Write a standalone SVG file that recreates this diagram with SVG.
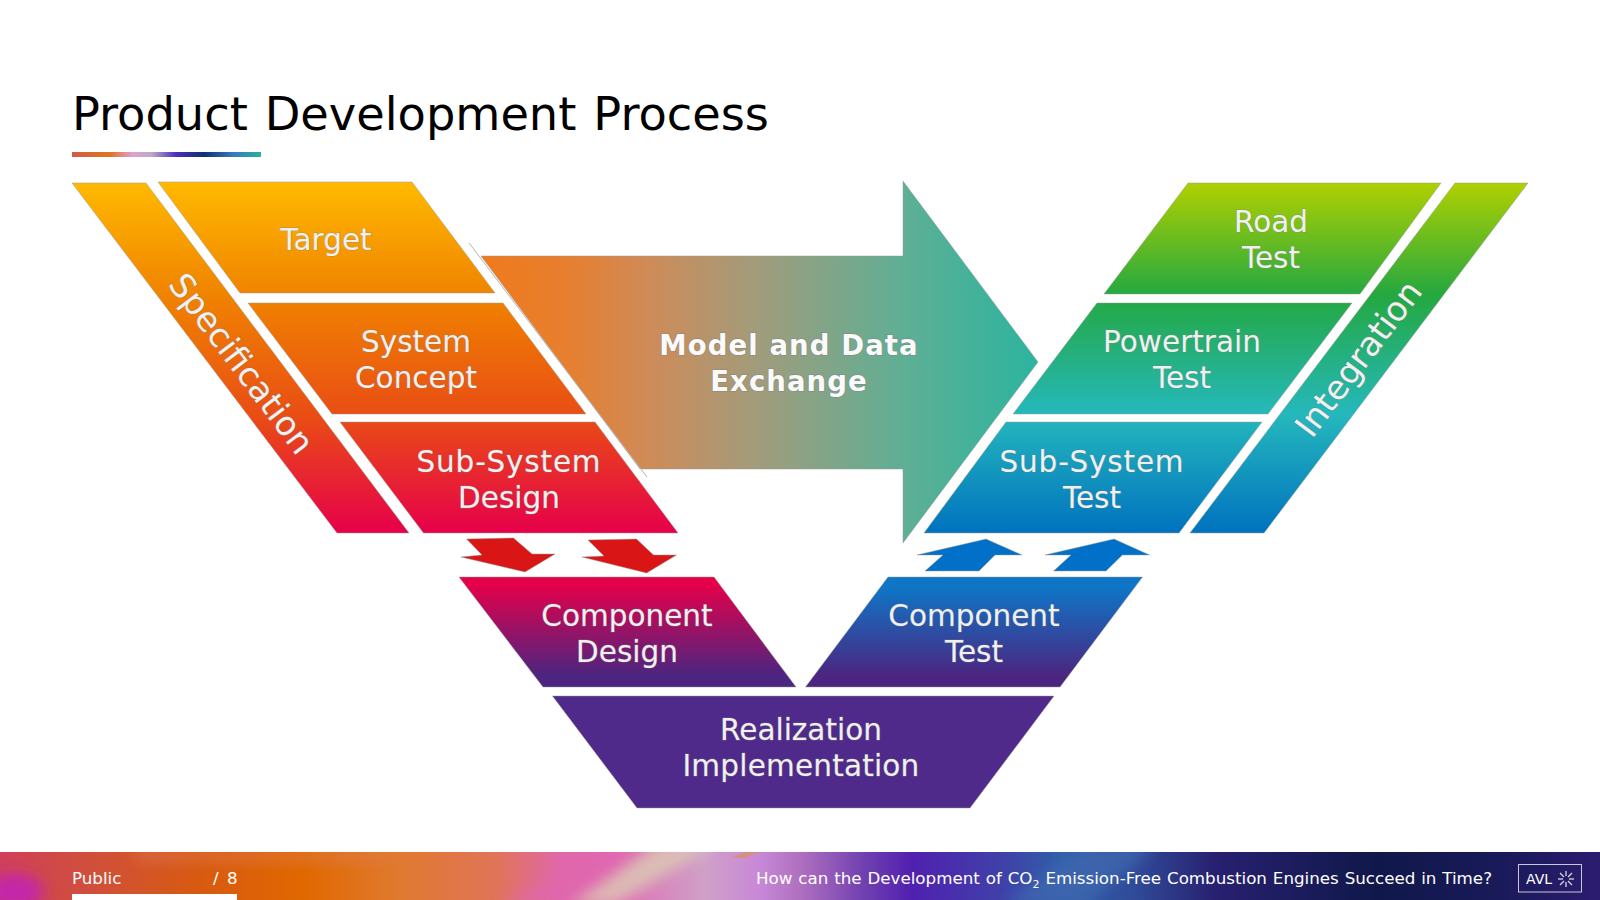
<svg xmlns="http://www.w3.org/2000/svg" width="1600" height="900" viewBox="0 0 1600 900">
<style>
.t{font-family:"DejaVu Sans",Verdana,sans-serif;font-size:29.5px;fill:#f0f0f0;text-anchor:middle;stroke:#808080;stroke-opacity:.55;stroke-width:1px;paint-order:stroke}
.b{font-weight:bold;font-size:27.5px;letter-spacing:1.1px;fill:#fafafa;stroke-width:1.300px}
.r{font-size:33.6px}
.w{letter-spacing:.8px}
.f{font-family:"DejaVu Sans",Verdana,sans-serif;font-size:16.7px;fill:#fff;word-spacing:.6px}
.e{stroke:#9a9a9a;stroke-opacity:.6;stroke-width:.8}
</style>
<defs>
<linearGradient id="gl" gradientUnits="userSpaceOnUse" x1="0" y1="183" x2="0" y2="533"><stop offset="0" stop-color="#ffb900"/><stop offset=".32" stop-color="#f08300"/><stop offset=".66" stop-color="#e94e14"/><stop offset="1" stop-color="#e6004a"/></linearGradient>
<linearGradient id="gr" gradientUnits="userSpaceOnUse" x1="0" y1="183" x2="0" y2="533"><stop offset="0" stop-color="#b0d000"/><stop offset=".32" stop-color="#24a840"/><stop offset=".66" stop-color="#25b8bc"/><stop offset="1" stop-color="#0072bf"/></linearGradient>
<linearGradient id="gcd" x1="0" y1="0" x2="0" y2="1"><stop offset=".06" stop-color="#e6004a"/><stop offset=".9" stop-color="#4b2580"/></linearGradient>
<linearGradient id="gct" x1="0" y1="0" x2="0" y2="1"><stop offset=".1" stop-color="#0f75c6"/><stop offset=".9" stop-color="#4b2580"/></linearGradient>
<linearGradient id="ga" gradientUnits="userSpaceOnUse" x1="481" y1="0" x2="1038" y2="0"><stop offset="0" stop-color="#f07a1c"/><stop offset=".16" stop-color="#e67f30"/><stop offset=".3" stop-color="#cf8b58"/><stop offset=".5" stop-color="#a09c7c"/><stop offset=".76" stop-color="#5eaf95"/><stop offset="1" stop-color="#2cb49f"/></linearGradient>
<linearGradient id="gu" x1="0" y1="0" x2="1" y2="0"><stop offset="0" stop-color="#d45a4a"/><stop offset=".2" stop-color="#e0731f"/><stop offset=".32" stop-color="#e0a0d0"/><stop offset=".42" stop-color="#c0a8c8"/><stop offset=".55" stop-color="#4a30b8"/><stop offset=".7" stop-color="#103070"/><stop offset=".85" stop-color="#3578c0"/><stop offset="1" stop-color="#2cb09c"/></linearGradient>
<linearGradient id="gf" gradientUnits="userSpaceOnUse" x1="0" y1="0" x2="1600" y2="0"><stop offset="0" stop-color="#d0405a"/><stop offset=".06" stop-color="#d0503a"/><stop offset=".125" stop-color="#d85a10"/><stop offset=".19" stop-color="#e06800"/><stop offset=".25" stop-color="#e07a30"/><stop offset=".31" stop-color="#e07458"/><stop offset=".35" stop-color="#e068a8"/><stop offset=".38" stop-color="#e068b0"/><stop offset=".44" stop-color="#d0a0c8"/><stop offset=".475" stop-color="#c888d8"/><stop offset=".5" stop-color="#b070c0"/><stop offset=".54" stop-color="#7040b0"/><stop offset=".57" stop-color="#5020b0"/><stop offset=".625" stop-color="#4040a8"/><stop offset=".665" stop-color="#3060a8"/><stop offset=".71" stop-color="#304a98"/><stop offset=".76" stop-color="#282070"/><stop offset=".86" stop-color="#10184a"/><stop offset=".94" stop-color="#1a1a5a"/><stop offset="1" stop-color="#2c1c70"/></linearGradient>
<filter id="bl" x="-30%" y="-60%" width="160%" height="220%"><feGaussianBlur stdDeviation="7"/></filter>
<clipPath id="cf"><rect x="0" y="852" width="1600" height="48"/></clipPath>
</defs>

<rect width="1600" height="900" fill="#fff"/>

<g id="header">
<text x="72" y="130" font-family="'DejaVu Sans',Verdana,sans-serif" font-size="46.300px" word-spacing="2.200" fill="#000">Product Development Process</text>
<rect x="72" y="152" width="189" height="5" fill="url(#gu)"/>
</g>

<g id="exchange">
<polygon points="481,256 903,256 903,181 1038,362 903,543 903,469 640,469" fill="url(#ga)" class="e"/>
<line x1="469" y1="243" x2="647" y2="477" stroke="#b4b4b4" stroke-width="1"/>
<text class="t b" x="789" y="355">Model and Data</text>
<text class="t b" x="789" y="391">Exchange</text>
</g>

<g id="specification">
<polygon points="72,183 146,183 409,533 337,533" fill="url(#gl)" class="e"/>
<text class="t r" transform="translate(241,364) rotate(53)" y="11">Specification</text>
</g>
<g id="target">
<polygon points="158,182 412,182 495,293 240,293" fill="url(#gl)" class="e"/>
<text class="t" x="326" y="250">Target</text>
</g>
<g id="system-concept">
<polygon points="248,303 503,303 586,414 332,414" fill="url(#gl)" class="e"/>
<text class="t" x="416" y="352">System</text>
<text class="t" x="416" y="388">Concept</text>
</g>
<g id="sub-system-design">
<polygon points="340,422 595,422 678,533 423.500,533" fill="url(#gl)" class="e"/>
<text class="t w" x="509" y="472">Sub-System</text>
<text class="t" x="509" y="508">Design</text>
</g>
<g id="road-test">
<polygon points="1188,183 1441,183 1360,294 1104,294" fill="url(#gr)" class="e"/>
<text class="t" x="1271" y="232">Road</text>
<text class="t" x="1271" y="268">Test</text>
</g>
<g id="powertrain-test">
<polygon points="1097,303 1352,303 1268,414 1013,414" fill="url(#gr)" class="e"/>
<text class="t" x="1182" y="352">Powertrain</text>
<text class="t" x="1182" y="388">Test</text>
</g>
<g id="sub-system-test">
<polygon points="1006,422 1262,422 1179,533 924,533" fill="url(#gr)" class="e"/>
<text class="t w" x="1092" y="472">Sub-System</text>
<text class="t" x="1092" y="508">Test</text>
</g>
<g id="integration">
<polygon points="1455,183 1528,183 1264,533 1190,533" fill="url(#gr)" class="e"/>
<text class="t r" transform="translate(1359,359) rotate(-53)" y="11">Integration</text>
</g>
<g id="component-design">
<polygon points="459,577 714,577 796,687 543,687" fill="url(#gcd)" class="e"/>
<text class="t" x="627" y="626">Component</text>
<text class="t" x="627" y="662">Design</text>
</g>
<g id="component-test">
<polygon points="888,577 1142.500,577 1060,687 805.500,687" fill="url(#gct)" class="e"/>
<text class="t" x="974" y="626">Component</text>
<text class="t" x="974" y="662">Test</text>
</g>
<g id="realization">
<polygon points="552.500,696 1054,696 970,808 637,808" fill="#4f2a8a" class="e"/>
<text class="t" x="801" y="740">Realization</text>
<text class="t" x="801" y="776" style="letter-spacing:.2px">Implementation</text>
</g>

<g id="connectors">
<polygon points="466.600,539 513.500,538 532,554 555,554 525,572 461,557 482,555" fill="#d91515" class="e"/>
<polygon points="588,540 636.500,539 653.500,555 676.500,555 646.600,573 582,557 604,556" fill="#d91515" class="e"/>
<polygon points="986,539 1022,555 995,555 979,571 925,571 943,555 917,555" fill="#0070c8" class="e"/>
<polygon points="1114,539 1149.500,555 1122.400,555 1106,571 1053.600,571 1071,555 1045,555" fill="#0070c8" class="e"/>
</g>

<g id="footer">
<rect x="0" y="852" width="1600" height="48" fill="url(#gf)"/>
<g clip-path="url(#cf)">
<ellipse cx="15" cy="892" rx="28" ry="18" fill="#c428a8" filter="url(#bl)"/>
<polygon points="130,850 400,850 380,862 140,862" fill="#e08060" opacity=".45" filter="url(#bl)"/>
<polygon points="500,905 570,905 680,845 620,845" fill="#e068b0" opacity=".7" filter="url(#bl)"/>
<polygon points="570,905 615,905 715,845 655,845" fill="#dcd2b4" opacity=".75" filter="url(#bl)"/>
<polygon points="730,858 745,858 765,850 750,850" fill="#e09050" opacity=".6"/>
<polygon points="1004,905 1085,905 1157,845 1085,845" fill="#3f68b0" opacity=".75" filter="url(#bl)"/>
</g>
<rect x="72" y="894" width="165" height="6" fill="#fff"/>
<text class="f" x="72" y="884">Public</text>
<text class="f" x="213" y="884" style="word-spacing:3px">/ 8</text>
<text class="f" x="1492" y="884" text-anchor="end">How can the Development of CO<tspan font-size="11px" style="font-size:11px" dy="4">2</tspan><tspan dy="-4"> Emission-Free Combustion Engines Succeed in Time?</tspan></text>
<rect x="1518.500" y="864.500" width="63" height="27.500" fill="none" stroke="#c8c8d8" stroke-width="1"/>
<text class="f" x="1526" y="884" style="font-size:14px">AVL</text>
<g stroke="#d8d8e0" stroke-width="1.300" fill="none">
<line x1="1566" y1="871" x2="1566" y2="876"/><line x1="1566" y1="882" x2="1566" y2="887"/>
<line x1="1558" y1="879" x2="1563" y2="879"/><line x1="1569" y1="879" x2="1574" y2="879"/>
<line x1="1560" y1="873" x2="1564" y2="877"/><line x1="1572" y1="873" x2="1568" y2="877"/>
<line x1="1560" y1="885" x2="1564" y2="881"/><line x1="1572" y1="885" x2="1568" y2="881"/>
</g>
</g>
</svg>
